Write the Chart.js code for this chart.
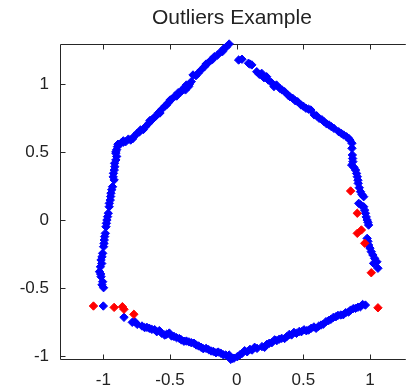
<!DOCTYPE html>
<html>
<head>
<meta charset="utf-8">
<script src="https://cdn.jsdelivr.net/npm/chart.js@4"></script>
<style>
html,body{margin:0;padding:0;background:#fff;}
#wrap{width:409px;height:388px;}
</style>
</head>
<body>
<div id="wrap"><canvas id="c" width="409" height="388"></canvas></div>
<script>
const titleText = 'Outliers Example';
const xTickValues = [-1, -0.5, 0, 0.5, 1];
const yTickValues = [-1, -0.5, 0, 0.5, 1];

const blueX = [
  -0.906,-0.894,-0.869,-0.832,-0.795,-0.771,-0.746,-0.721,-0.684,-0.660,-0.636,-0.610,-0.586,-0.562,-0.537,-0.512,-0.488,-0.463,-0.438,-0.409,-0.384,-0.377,-0.340,-0.327,-0.290,-0.266,-0.241,-0.217,-0.192,-0.167,-0.143,-0.106,-0.093,-0.056,
  -0.812,-0.700,-0.650,-0.575,-0.500,-0.450,-0.355,-0.305,-0.230,-0.180,-0.120,-0.850,-0.780,-0.730,-0.620,-0.525,-0.420,-0.395,-0.360,-0.078,
  0.015,0.040,0.089,0.114,0.151,0.188,0.225,0.237,0.262,0.299,0.323,0.360,0.384,0.421,0.458,0.483,0.520,0.557,0.582,0.619,0.656,0.693,0.730,0.766,0.803,0.840,0.865,0.865,
  0.170,0.280,0.340,0.440,0.500,0.600,0.675,0.785,0.850,0.100,0.205,0.400,0.540,0.640,0.710,0.825,
  0.868,0.872,0.863,0.892,0.905,0.912,0.929,0.953,0.916,0.953,0.966,0.979,0.990,0.979,0.990,1.010,1.035,1.052,1.027,1.060,
  0.870,0.880,0.900,0.910,0.920,0.940,0.930,0.960,0.972,0.985,0.985,1.000,1.022,
  -0.056,-0.032,0.005,0.042,0.079,0.116,0.153,0.190,0.227,0.264,0.301,0.338,0.375,0.412,0.449,0.486,0.523,0.559,0.596,0.633,0.670,0.707,0.744,0.781,0.818,0.855,0.892,0.929,0.966,
  0.060,0.135,0.210,0.285,0.360,0.430,0.505,0.580,0.650,0.725,0.800,0.875,0.945,0.025,0.100,0.245,0.320,0.395,0.470,0.540,0.615,0.690,0.760,0.840,0.910,
  -1.000,-0.845,-0.783,-0.746,-0.710,-0.673,-0.636,-0.599,-0.562,-0.525,-0.488,-0.451,-0.414,-0.377,-0.340,-0.303,-0.266,-0.229,-0.192,-0.155,-0.118,-0.081,-0.044,
  -0.765,-0.690,-0.615,-0.540,-0.470,-0.395,-0.320,-0.250,-0.175,-0.100,-0.020,-0.655,-0.580,-0.505,-0.430,-0.358,-0.285,-0.210,-0.138,-0.062,
  -0.906,-0.906,-0.914,-0.924,-0.919,-0.931,-0.943,-0.948,-0.956,-0.963,-0.973,-0.980,-0.985,-0.993,-0.998,-1.005,-1.017,-1.022,-1.029,-1.017,-1.005,-0.998,
  -0.900,-0.915,-0.918,-0.926,-0.937,-0.945,-0.955,-0.968,-0.977,-0.990,-0.995,-1.010,-1.012,-1.020,-1.010,-0.890,-0.850,-0.900
];
const blueY = [
  0.505,0.542,0.567,0.579,0.591,0.616,0.641,0.665,0.689,0.714,0.739,0.763,0.792,0.817,0.842,0.866,0.891,0.915,0.940,0.956,0.960,0.996,1.021,1.070,1.082,1.107,1.131,1.156,1.180,1.205,1.217,1.242,1.267,1.298,
  0.598,0.668,0.735,0.790,0.885,0.915,1.000,1.065,1.150,1.185,1.240,0.585,0.600,0.650,0.755,0.850,0.945,0.975,0.985,1.275,
  1.180,1.186,1.156,1.144,1.094,1.082,1.057,1.033,1.013,0.996,0.972,0.947,0.923,0.898,0.873,0.849,0.825,0.812,0.776,0.751,0.726,0.702,0.677,0.652,0.628,0.604,0.567,0.530,
  1.075,0.985,0.960,0.880,0.840,0.770,0.710,0.640,0.590,1.150,1.050,0.910,0.818,0.740,0.690,0.615,
  0.481,0.432,0.407,0.370,0.321,0.272,0.211,0.174,0.125,0.100,0.052,0.002,-0.035,-0.133,-0.182,-0.231,-0.280,-0.305,-0.317,-0.353,
  0.455,0.390,0.345,0.295,0.240,0.190,0.115,0.075,0.025,-0.015,-0.155,-0.205,-0.255,
  -0.992,-1.016,-1.004,-0.979,-0.968,-0.955,-0.943,-0.930,-0.913,-0.901,-0.886,-0.869,-0.857,-0.844,-0.832,-0.820,-0.813,-0.795,-0.795,-0.771,-0.746,-0.729,-0.710,-0.697,-0.680,-0.661,-0.648,-0.636,-0.624,
  -0.960,-0.935,-0.935,-0.880,-0.870,-0.825,-0.806,-0.785,-0.765,-0.715,-0.695,-0.650,-0.620,-0.990,-0.950,-0.905,-0.875,-0.840,-0.818,-0.808,-0.780,-0.738,-0.700,-0.675,-0.640,
  -0.631,-0.714,-0.751,-0.766,-0.778,-0.788,-0.803,-0.820,-0.832,-0.839,-0.852,-0.864,-0.881,-0.889,-0.901,-0.918,-0.935,-0.943,-0.962,-0.975,-0.979,-0.992,-1.024,
  -0.745,-0.790,-0.805,-0.845,-0.855,-0.890,-0.905,-0.945,-0.965,-0.990,-1.015,-0.795,-0.812,-0.830,-0.870,-0.895,-0.925,-0.952,-0.970,-1.000,
  0.493,0.444,0.395,0.346,0.297,0.247,0.199,0.149,0.100,0.052,0.002,-0.047,-0.096,-0.145,-0.194,-0.243,-0.292,-0.342,-0.378,-0.415,-0.452,-0.496,
  0.470,0.420,0.370,0.320,0.225,0.175,0.125,0.027,-0.022,-0.120,-0.170,-0.268,-0.318,-0.395,-0.475,0.560,0.575,0.520
];
const redX = [-1.074,-0.919,-0.857,-0.845,-0.771,0.855,0.905,0.905,0.936,0.961,1.010,1.060];
const redY = [-0.631,-0.641,-0.636,-0.655,-0.692,0.216,0.052,-0.096,-0.071,-0.169,-0.386,-0.644];

const toPts = (xs, ys) => xs.map((v, i) => ({x: v, y: ys[i]}));

const FONT = '"Liberation Sans", Arial, Helvetica, sans-serif';
const AXIS_COLOR = '#262626';

const matlabAxes = {
  id: 'matlabAxes',
  beforeDatasetsDraw(chart) {
    const {ctx, chartArea: a, scales: {x, y}} = chart;
    ctx.save();
    ctx.strokeStyle = AXIS_COLOR;
    ctx.lineWidth = 1;
    ctx.beginPath();
    const L = Math.round(a.left) + 0.5, T = Math.round(a.top) + 0.5, B = Math.round(a.bottom) + 0.5, R = a.right + 2;
    ctx.moveTo(R, T); ctx.lineTo(L, T); ctx.lineTo(L, B); ctx.lineTo(R, B);
    const tl = 5;
    xTickValues.forEach(v => {
      const px = Math.round(x.getPixelForValue(v)) + 0.5;
      ctx.moveTo(px, B); ctx.lineTo(px, B - tl);
      ctx.moveTo(px, T); ctx.lineTo(px, T + tl);
    });
    yTickValues.forEach(v => {
      const py = Math.round(y.getPixelForValue(v)) + 0.5;
      ctx.moveTo(L, py); ctx.lineTo(L + tl, py);
    });
    ctx.stroke();
    ctx.restore();
  }
};

new Chart(document.getElementById('c'), {
  type: 'scatter',
  data: {
    datasets: [
      {
        label: 'inliers',
        data: toPts(blueX, blueY),
        backgroundColor: '#0000ff',
        borderColor: '#0000ff',
        borderWidth: 1,
        pointStyle: 'rectRot',
        pointRadius: 4.2,
        order: 2,
        clip: false
      },
      {
        label: 'outliers',
        data: toPts(redX, redY),
        backgroundColor: '#ff0000',
        borderColor: '#ff0000',
        borderWidth: 1,
        pointStyle: 'rectRot',
        pointRadius: 4.2,
        order: 1,
        clip: false
      }
    ]
  },
  options: {
    responsive: false,
    animation: false,
    events: [],
    layout: {padding: 0},
    plugins: {
      legend: {display: false},
      tooltip: {enabled: false},
      title: {
        display: true,
        text: titleText,
        fullSize: false,
        color: '#222',
        font: {family: FONT, size: 21, weight: 'normal', lineHeight: 1.2},
        padding: {top: 6, bottom: 12.8}
      }
    },
    scales: {
      x: {
        type: 'linear',
        min: -1.325,
        max: 1.254,
        grid: {display: false, drawTicks: false, tickLength: 0},
        border: {display: false},
        afterBuildTicks: s => { s.ticks = xTickValues.map(v => ({value: v})); },
        afterFit: s => { s.height = 29; },
        ticks: {
          color: '#222',
          font: {family: FONT, size: 17},
          padding: 11,
          maxRotation: 0,
          autoSkip: false,
          callback: v => String(v)
        }
      },
      y: {
        type: 'linear',
        min: -1.021,
        max: 1.298,
        grid: {display: false, drawTicks: false, tickLength: 0},
        border: {display: false},
        afterBuildTicks: s => { s.ticks = yTickValues.map(v => ({value: v})); },
        afterFit: s => { s.width = 60; },
        ticks: {
          color: '#222',
          font: {family: FONT, size: 17},
          padding: 11,
          autoSkip: false,
          callback: v => String(v)
        }
      }
    }
  },
  plugins: [matlabAxes]
});
</script>
</body>
</html>
